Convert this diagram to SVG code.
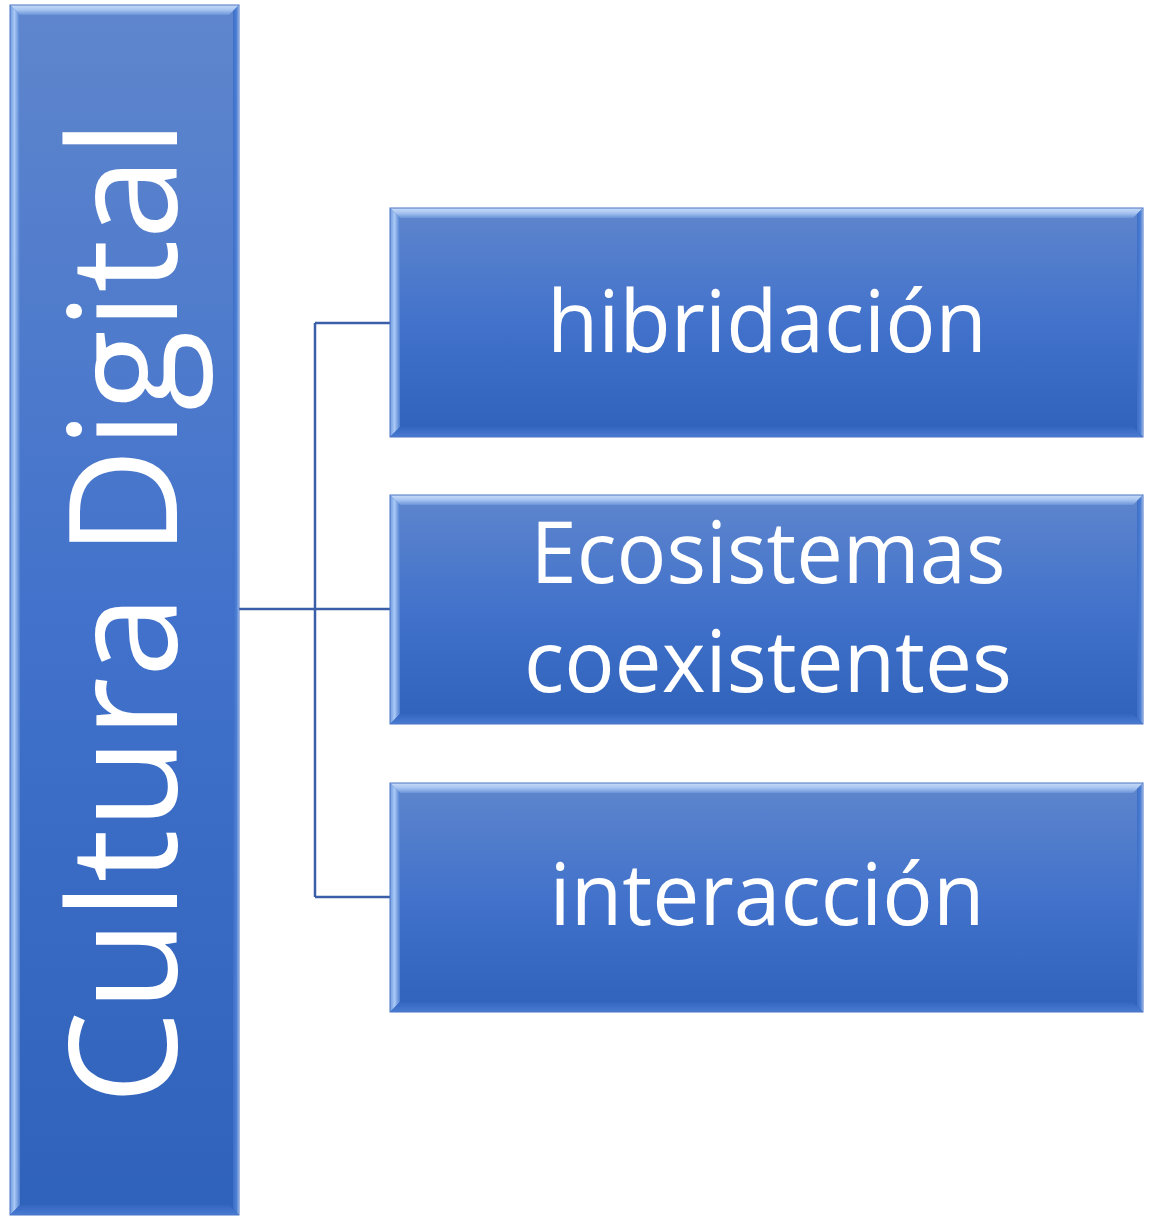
<svg xmlns="http://www.w3.org/2000/svg" width="1153" height="1218" viewBox="0 0 1153 1218">
<defs>
<linearGradient id="fill" x1="0" y1="0" x2="0" y2="1">
<stop offset="0" stop-color="#5f86cd"/>
<stop offset="0.5" stop-color="#4272cb"/>
<stop offset="1" stop-color="#2f62ba"/>
</linearGradient>
<linearGradient id="topb" x1="0" y1="0" x2="0" y2="1">
<stop offset="0" stop-color="#c9dcf7"/>
<stop offset="0.5" stop-color="#a6c4f0"/>
<stop offset="1" stop-color="#6a93d8"/>
</linearGradient>
<linearGradient id="leftb" x1="0" y1="0" x2="1" y2="0">
<stop offset="0" stop-color="#6f9be0"/>
<stop offset="0.45" stop-color="#a9c8f5"/>
<stop offset="1" stop-color="#4f7fd0"/>
</linearGradient>
<linearGradient id="rightb" x1="0" y1="0" x2="1" y2="0">
<stop offset="0" stop-color="#3e6ec8"/>
<stop offset="0.7" stop-color="#4f82d6"/>
<stop offset="1" stop-color="#e8f1ff"/>
</linearGradient>
<linearGradient id="botb" x1="0" y1="0" x2="0" y2="1">
<stop offset="0" stop-color="#3466c0"/>
<stop offset="1" stop-color="#4a7bd2"/>
</linearGradient>
</defs>
<style>
.body{fill:url(#fill);}
.tb{fill:url(#topb);}
.lb{fill:url(#leftb);}
.rb{fill:url(#rightb);}
.bb{fill:url(#botb);}
.edge{fill:none;stroke:#4b74c4;stroke-width:1;}
.lbl{font-family:"Open Sans","Liberation Sans",sans-serif;fill:#ffffff;text-anchor:middle;}
.conn{fill:none;stroke:#3a5fa8;stroke-width:2.5;}
</style>
<g id="connectors">
<path class="conn" d="M239,609 H390"/>
<path class="conn" d="M315,323 V897"/>
<path class="conn" d="M315,323 H390"/>
<path class="conn" d="M315,897 H390"/>
</g>
<g id="node-cultura">
<rect class="body" x="10" y="5" width="229" height="1210"/>
<polygon class="tb" points="10,5 239,5 229,15 20,15"/>
<polygon class="lb" points="10,5 20,15 20,1205 10,1215"/>
<polygon class="rb" points="239,5 239,1215 233,1209 233,11"/>
<polygon class="bb" points="10,1215 239,1215 229,1205 20,1205"/>
<rect class="edge" x="10" y="5" width="229" height="1210"/>
<text class="lbl" transform="translate(177,612) rotate(-90)" font-size="150" textLength="985" lengthAdjust="spacingAndGlyphs">Cultura Digital</text>
</g>
<g id="node-hibridacion">
<rect class="body" x="390" y="208" width="753" height="229"/>
<polygon class="tb" points="390,208 1143,208 1133,218 400,218"/>
<polygon class="lb" points="390,208 400,218 400,427 390,437"/>
<polygon class="rb" points="1143,208 1143,437 1137,431 1137,214"/>
<polygon class="bb" points="390,437 1143,437 1133,427 400,427"/>
<rect class="edge" x="390" y="208" width="753" height="229"/>
<text class="lbl" x="767" y="352" font-size="86" textLength="440" lengthAdjust="spacingAndGlyphs">hibridación</text>
</g>
<g id="node-ecosistemas">
<rect class="body" x="390" y="495" width="753" height="229"/>
<polygon class="tb" points="390,495 1143,495 1133,505 400,505"/>
<polygon class="lb" points="390,495 400,505 400,714 390,724"/>
<polygon class="rb" points="1143,495 1143,724 1137,718 1137,501"/>
<polygon class="bb" points="390,724 1143,724 1133,714 400,714"/>
<rect class="edge" x="390" y="495" width="753" height="229"/>
<text class="lbl" x="768" y="583" font-size="86" textLength="475" lengthAdjust="spacingAndGlyphs">Ecosistemas</text>
<text class="lbl" x="768" y="692" font-size="86" textLength="488" lengthAdjust="spacingAndGlyphs">coexistentes</text>
</g>
<g id="node-interaccion">
<rect class="body" x="390" y="783" width="753" height="229"/>
<polygon class="tb" points="390,783 1143,783 1133,793 400,793"/>
<polygon class="lb" points="390,783 400,793 400,1002 390,1012"/>
<polygon class="rb" points="1143,783 1143,1012 1137,1006 1137,789"/>
<polygon class="bb" points="390,1012 1143,1012 1133,1002 400,1002"/>
<rect class="edge" x="390" y="783" width="753" height="229"/>
<text class="lbl" x="767" y="925" font-size="86" textLength="435" lengthAdjust="spacingAndGlyphs">interacción</text>
</g>
</svg>
